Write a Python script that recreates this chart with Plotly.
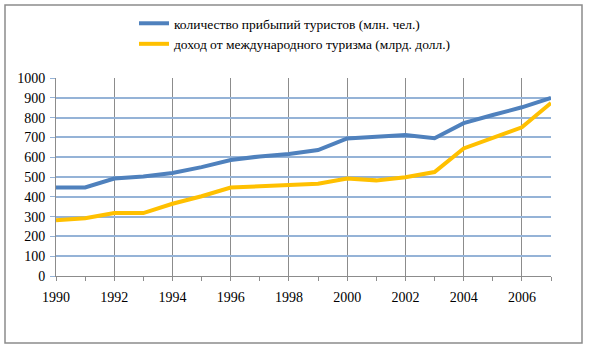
import plotly.graph_objects as go

years = list(range(1990, 2008))
arrivals = [447, 447, 492, 503, 520, 550, 586, 604, 616, 636, 695, 701, 712, 696, 772, 813, 852, 899]
receipts = [282, 292, 318, 318, 365, 403, 447, 452, 459, 466, 492, 483, 499, 525, 644, 697, 751, 874]
name_arrivals = "количество прибыпий туристов (млн. чел.)"
name_receipts = "доход от международного туризма (млрд. долл.)"
x_ticks = list(range(1990, 2007, 2))
y_ticks = list(range(0, 1001, 100))

FONT = "Liberation Serif"

fig = go.Figure()
fig.add_trace(go.Scatter(x=years, y=arrivals, mode="lines", name=name_arrivals,
                         line=dict(color="#4F81BD", width=4), legendgroup="a"))
fig.add_trace(go.Scatter(x=years, y=receipts, mode="lines", name=name_receipts,
                         line=dict(color="#FFC000", width=4), legendgroup="b"))

L, R, T, B = 56, 38, 78, 75
W, H = 589, 351
pw, ph = W - L - R, H - T - B

def px_to_paper_x(px):
    return (px - L) / pw

def px_to_paper_y(py):
    return (H - B - py) / ph

fig.update_layout(
    width=W, height=H,
    margin=dict(l=L, r=R, t=T, b=B, autoexpand=False),
    paper_bgcolor="white", plot_bgcolor="white",
    font=dict(family=FONT, size=14, color="black"),
    showlegend=True,
    legend=dict(xref="container", yref="container",
                x=134 / W, y=1 - 8 / H, xanchor="left", yanchor="top",
                font=dict(family=FONT, size=13.5, color="black"),
                traceorder="grouped", tracegroupgap=0, bgcolor="rgba(0,0,0,0)"),
    xaxis=dict(range=[1990, 2007], tickvals=x_ticks, ticktext=[str(v) for v in x_ticks],
               showgrid=True, gridcolor="#8C8C8C", gridwidth=1,
               showline=True, linecolor="#8C8C8C", linewidth=1,
               ticks="outside", ticklen=4, tickcolor="#8C8C8C",
               minor=dict(dtick=1, tick0=1990, ticks="outside", ticklen=4, tickcolor="#8C8C8C", showgrid=False),
               ticklabelstandoff=4, zeroline=False, tickfont=dict(family=FONT, size=14)),
    yaxis=dict(range=[0, 1000], tickvals=y_ticks,
               showgrid=True, gridcolor="#95B3D7", gridwidth=1.5,
               showline=True, linecolor="#8C8C8C", linewidth=1,
               ticks="outside", ticklen=5, tickcolor="#95B3D7",
               ticklabelstandoff=2, zeroline=False, tickfont=dict(family=FONT, size=14)),
    shapes=[dict(type="rect", xref="paper", yref="paper",
                 x0=px_to_paper_x(5), x1=px_to_paper_x(582),
                 y0=px_to_paper_y(343), y1=px_to_paper_y(5),
                 line=dict(color="#8C8C8C", width=1.5), fillcolor="rgba(0,0,0,0)", layer="below")],
)

fig.write_html("out.html")
